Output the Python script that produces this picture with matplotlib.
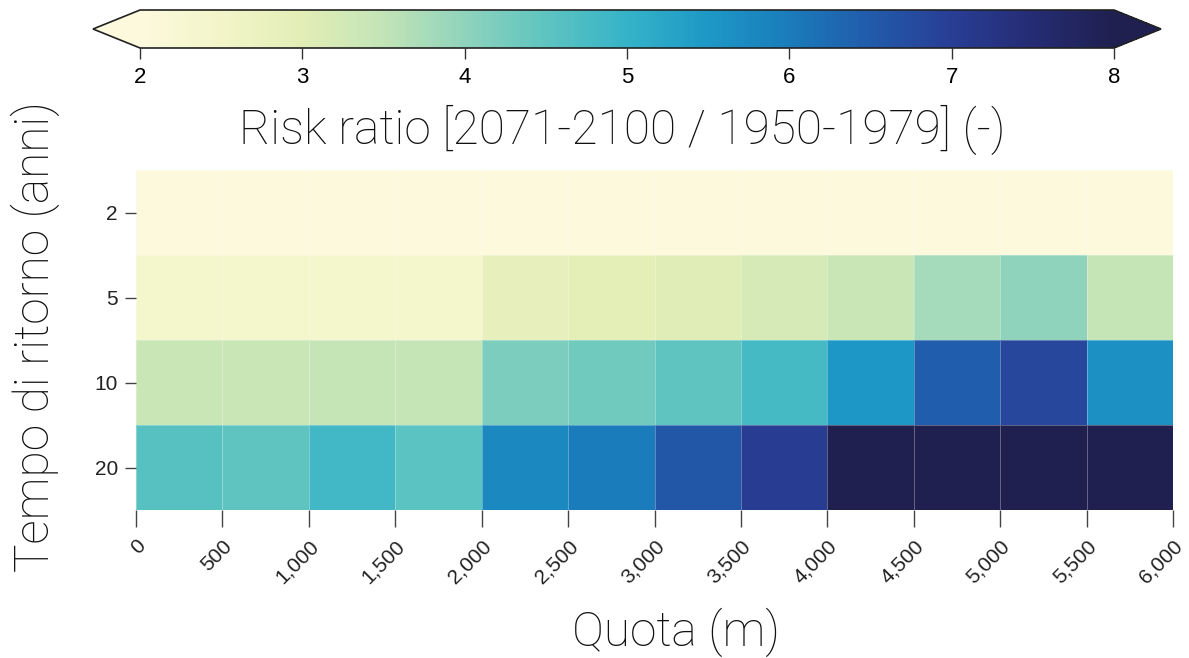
import numpy as np
import matplotlib
matplotlib.use("Agg")
import matplotlib.pyplot as plt
from matplotlib.colors import LinearSegmentedColormap

# Dati
quota = [0, 500, 1000, 1500, 2000, 2500, 3000, 3500, 4000, 4500, 5000, 5500, 6000]
tempo_ritorno = ["2", "5", "10", "20"]
rr_2 = [2.01, 2.0, 2.0, 2.0, 2.01, 2.01, 2.02, 2.01, 2.03, 2.02, 2.03, 2.02]
rr_5 = [2.4, 2.4, 2.4, 2.4, 2.85, 2.95, 3.05, 3.2, 3.4, 3.8, 4.0, 3.45]
rr_10 = [3.4, 3.4, 3.45, 3.45, 4.2, 4.3, 4.5, 4.8, 5.5, 6.45, 6.85, 5.65]
rr_20 = [4.6, 4.5, 4.85, 4.55, 5.75, 6.0, 6.55, 7.05, 8.2, 8.2, 8.2, 8.2]

valori = np.array([rr_2, rr_5, rr_10, rr_20])

colori_scala = ["#fcf9dd", "#f2f5c8", "#e2eeb6", "#c2e4b7", "#8fd3bc", "#5ec4c0",
                "#35b3c8", "#1d98c6", "#1a7cbb", "#215bab", "#283e95", "#252c74",
                "#1f2050"]
cmap = LinearSegmentedColormap.from_list("rr", colori_scala)
cmap.set_over("#1f2050")
cmap.set_under("#fcf9dd")

W, H = 1189, 658
fig = plt.figure(figsize=(W / 100, H / 100), dpi=100)

ax = fig.add_axes([136 / W, 1 - 510 / H, (1173 - 136) / W, 340 / H])
cax = fig.add_axes([93 / W, 1 - 48 / H, (1161 - 93) / W, 38 / H])

y_edges = np.arange(len(tempo_ritorno) + 1)
mesh = ax.pcolormesh(quota, y_edges, valori, cmap=cmap, vmin=2, vmax=8,
                     edgecolors=(1, 1, 1, 0.3), linewidth=0.6)
ax.set_ylim(len(tempo_ritorno), 0)
ax.set_xlim(quota[0], quota[-1])

for s in ax.spines.values():
    s.set_visible(False)

tick_font = "Liberation Sans"
ax.set_xticks(quota)
ax.set_xticklabels([f"{q:,}" for q in quota], rotation=45, rotation_mode="anchor",
                   ha="right", va="top", fontsize=15, family=tick_font, color="#222222")
ax.set_yticks(y_edges[:-1] + 0.5)
ax.set_yticklabels(tempo_ritorno, fontsize=15, family=tick_font, color="#222222")
ax.tick_params(axis="x", length=12, width=1, color="#444444", pad=7)
ax.tick_params(axis="y", length=8, width=1, color="#444444", pad=5)

label_font = dict(family="Roboto", fontweight="light", fontsize=34.5, color="#111111")
ax.set_xlabel("Quota (m)", **label_font)
ax.xaxis.set_label_coords((676 - 136) / 1037, (510 - 608) / 340)
ax.set_ylabel("Tempo di ritorno (anni)", **label_font)
ax.yaxis.set_label_coords((60 - 136) / 1037, 0.51)

cb = fig.colorbar(mesh, cax=cax, orientation="horizontal", extend="both",
                  extendfrac=47 / 973)
cb.set_ticks([2, 3, 4, 5, 6, 7, 8])
cb.ax.tick_params(labelsize=16, length=8, width=1, color="#333333", pad=6)
for t in cb.ax.get_xticklabels():
    t.set_family(tick_font)
cb.outline.set_linewidth(1.2)
cb.outline.set_edgecolor("#222222")

fig.text(622 / W, 1 - 130 / H, "Risk ratio [2071-2100 / 1950-1979] (-)",
         ha="center", va="center", **label_font)

fig.savefig("out.png", dpi=100)
